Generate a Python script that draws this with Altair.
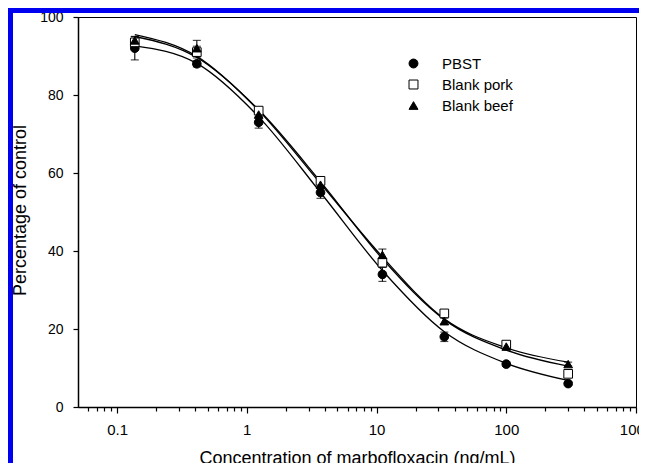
import altair as alt
import pandas as pd

# ---------------- data ----------------
conc = [0.137, 0.412, 1.235, 3.70, 11.1, 33.3, 100.0, 300.0]
series_names = ["PBST", "Blank pork", "Blank beef"]

pbst_mean = [92.0, 88.0, 73.0, 55.0, 34.0, 18.0, 11.0, 6.0]
pbst_err = [3.0, 0.8, 1.5, 1.5, 1.8, 1.2, 0.6, 0.5]
pork_mean = [93.5, 91.0, 76.0, 58.0, 37.0, 24.0, 16.0, 8.5]
pork_err = [1.0, 1.5, 0.8, 1.0, 1.0, 0.8, 0.8, 0.8]
beef_mean = [94.0, 92.0, 75.0, 57.0, 39.0, 22.0, 15.5, 11.0]
beef_err = [1.0, 2.0, 1.0, 1.0, 1.5, 0.8, 0.5, 0.5]

# fitted-curve values at the same concentrations
pbst_fit = [92.6, 88.1, 74.4, 55.0, 35.0, 19.3, 11.2, 6.8]
pork_fit = [95.0, 89.6, 76.2, 57.8, 38.0, 22.4, 14.6, 10.5]
beef_fit = [95.5, 89.9, 76.0, 57.3, 38.5, 22.6, 15.2, 11.5]

x_ticks = ([0.06, 0.07, 0.08, 0.09]
           + [0.1, 0.2, 0.3, 0.4, 0.5, 0.6, 0.7, 0.8, 0.9]
           + [1, 2, 3, 4, 5, 6, 7, 8, 9]
           + [10, 20, 30, 40, 50, 60, 70, 80, 90]
           + [100, 200, 300, 400, 500, 600, 700, 800, 900]
           + [1000])
y_ticks = [0, 20, 40, 60, 80, 100]

# ---------------- tables ----------------
means = [pbst_mean, pork_mean, beef_mean]
errs = [pbst_err, pork_err, beef_err]
fits = [pbst_fit, pork_fit, beef_fit]
rows, crows = [], []
for name, m, e, f in zip(series_names, means, errs, fits):
    for xi, mi, ei, fi in zip(conc, m, e, f):
        rows.append({"conc": xi, "pct": mi, "lo": mi - ei, "hi": mi + ei, "series": name})
        crows.append({"conc": xi, "fit": fi, "series": name})
df = pd.DataFrame(rows)
cdf = pd.DataFrame(crows)
frame_df = pd.DataFrame({"k": [0]})

FONT = "Liberation Sans"

xscale = alt.Scale(type="log", domain=[0.05, 1000], nice=False)
yscale = alt.Scale(domain=[0, 100], nice=False)

xaxis = alt.Axis(
    values=x_ticks, format="~g",
    labelExpr="indexof(['0.1','1','10','100','1000'], datum.label) >= 0 ? datum.label : ''",
    labelOverlap=False, labelFontSize=15, labelPadding=9, labelFlush=False,
    tickSize={"condition": {"test": "indexof([0.1,1,10,100,1000], datum.value) >= 0", "value": 6}, "value": 4},
    title="Concentration of marbofloxacin (ng/mL)", titleFontSize=18,
    titleBaseline="alphabetic", titleY=56, grid=False,
)
yaxis = alt.Axis(
    values=y_ticks, labelFontSize=14, labelPadding=10, tickSize=5,
    title="Percentage of control", titleFontSize=18, titleAngle=-90,
    titleBaseline="alphabetic", titleAlign="center", titleX=-53, titleY=193,
    grid=False,
)

X = alt.X("conc:Q", scale=xscale, axis=xaxis)
Y = alt.Y("pct:Q", scale=yscale, axis=yaxis)

curves = alt.Chart(cdf).mark_line(
    color="black", strokeWidth=1.3, interpolate="monotone"
).encode(
    x=alt.X("conc:Q", scale=xscale, axis=xaxis),
    y=alt.Y("fit:Q", scale=yscale, axis=yaxis),
    detail="series:N",
)

bars = alt.Chart(df).mark_rule(color="black", strokeWidth=1.1).encode(
    x=X, y=alt.Y("lo:Q", scale=yscale, axis=yaxis), y2="hi:Q"
)

caps = alt.Chart(df).transform_fold(["lo", "hi"], as_=["end", "val"]).mark_tick(
    orient="horizontal", size=8, thickness=1.2, color="black"
).encode(x=X, y=alt.Y("val:Q", scale=yscale, axis=yaxis))

points = alt.Chart(df).mark_point(
    size=75, strokeWidth=1, opacity=1
).encode(
    x=X, y=Y,
    shape=alt.Shape("series:N", scale=alt.Scale(domain=series_names,
                                                range=["circle", "square", "triangle-up"]),
                    legend=alt.Legend(title=None)),
    fill=alt.Fill("series:N", scale=alt.Scale(domain=series_names,
                                              range=["black", "white", "black"]),
                  legend=alt.Legend(title=None)),
    stroke=alt.Stroke("series:N", scale=alt.Scale(domain=series_names,
                                                  range=["black", "black", "black"]),
                      legend=alt.Legend(title=None)),
)

top_band = alt.Chart(frame_df).mark_rule(color="#0000f0", strokeWidth=5).encode(
    x=alt.value(-70), x2=alt.value(700), y=alt.value(-6.5))
left_band = alt.Chart(frame_df).mark_rule(color="#0000f0", strokeWidth=5).encode(
    x=alt.value(-67.5), y=alt.value(-9), y2=alt.value(470))

chart = alt.layer(
    curves, bars, caps, points, top_band, left_band
).properties(
    width=558, height=390,
    background="white",
    autosize=alt.AutoSizeParams(type="none"),
    padding={"left": 70, "top": 9, "right": 3, "bottom": 56},
).configure_view(
    stroke="black", strokeWidth=1
).configure_axis(
    labelFont=FONT, titleFont=FONT, labelColor="black", titleColor="black",
    titleFontWeight="normal", domainColor="black", domainWidth=1.5,
    tickColor="black", tickWidth=1.2,
).configure_legend(
    orient="none", legendX=328, legendY=39, padding=0,
    labelFont=FONT, labelFontSize=15, labelColor="black",
    symbolSize=80, symbolStrokeWidth=1,
    labelOffset=21, rowPadding=5,
)

chart.save("out.html", embed_options={"renderer": "svg", "actions": False})
